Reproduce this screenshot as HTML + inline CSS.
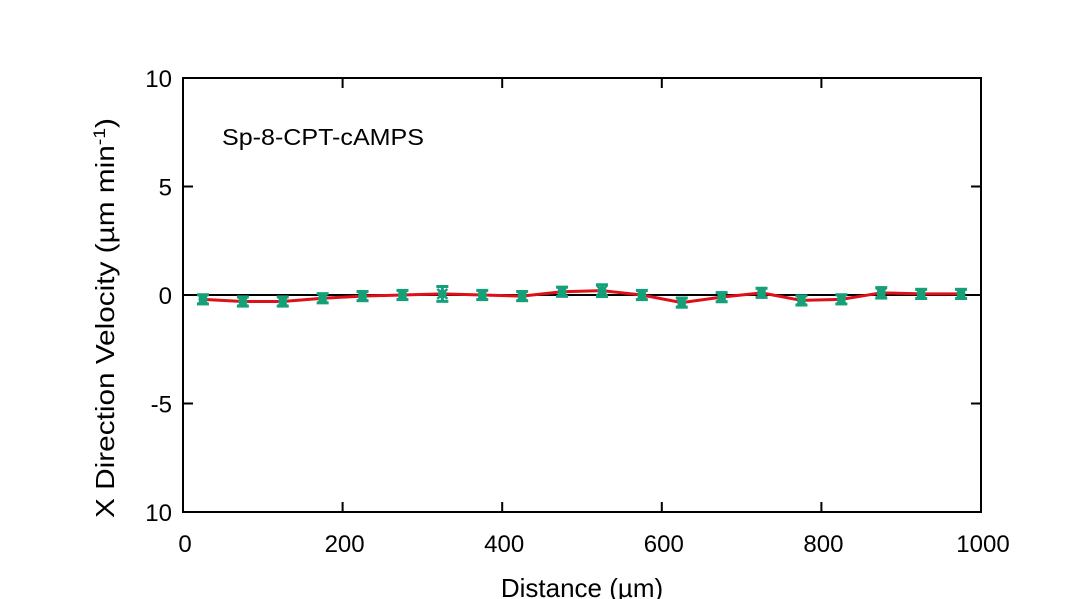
<!DOCTYPE html>
<html><head><meta charset="utf-8"><style>
body{margin:0;background:#fff;}
svg{display:block;font-family:"Liberation Sans",sans-serif;}
</style></head><body>
<svg id="c" width="1085" height="599">
<rect width="1085" height="599" fill="#fff"/>
<g id="axes"></g>
<g id="marks"></g>
<text x="222" y="145" font-size="23" textLength="202" lengthAdjust="spacingAndGlyphs">Sp-8-CPT-cAMPS</text>
<text x="582" y="597" font-size="26" text-anchor="middle">Distance (µm)</text>
<text transform="translate(114,318) rotate(-90)" font-size="26" text-anchor="middle" textLength="400" lengthAdjust="spacingAndGlyphs">X Direction Velocity (µm min<tspan baseline-shift="super" font-size="17">-1</tspan>)</text>
</svg>
<script>
const distances=[25,75,125,175,225,275,325,375,425,475,525,575,625,675,725,775,825,875,925,975];
const velocities=[-0.2,-0.3,-0.3,-0.15,-0.05,0,0.05,0,-0.05,0.15,0.2,0,-0.35,-0.1,0.1,-0.25,-0.2,0.1,0.05,0.05];
const errors=[0.12,0.12,0.12,0.12,0.12,0.12,0.25,0.12,0.12,0.12,0.18,0.12,0.12,0.12,0.12,0.12,0.12,0.15,0.12,0.12];
const xTicks=[0,200,400,600,800,1000];
const yTicks=[10,5,0,-5,-10];
const yTickLabels=["10","5","0","-5","10"];
const X0=183,X1=981,Y0=512,Y1=78;
const sx=v=>X0+(v-0)/(1000-0)*(X1-X0);
const sy=v=>Y0-(v+10)/20*(Y0-Y1);
const NS="http://www.w3.org/2000/svg";
function mk(t,a,p){const e=document.createElementNS(NS,t);for(const k in a)e.setAttribute(k,a[k]);p.appendChild(e);return e;}
const ax=document.getElementById('axes'),mg=document.getElementById('marks');
const frame=mk('rect',{x:X0,y:Y1,width:X1-X0,height:Y0-Y1,fill:'none',stroke:'#000','stroke-width':2},ax);


const zl=mk('line',{x1:X0,x2:X1,y1:sy(0),y2:sy(0),stroke:'#000','stroke-width':2},ax);


xTicks.forEach(t=>{
 const x=sx(t);
 mk('line',{x1:x,x2:x,y1:Y0,y2:Y0-10,stroke:'#000','stroke-width':2},ax);
 mk('line',{x1:x,x2:x,y1:Y1,y2:Y1+10,stroke:'#000','stroke-width':2},ax);
 const tx=mk('text',{x:x+2,y:Y0+40,'font-size':24,'text-anchor':'middle'},ax);
 tx.textContent=t;
 
 
});
yTicks.forEach((t,i)=>{
 const y=sy(t);
 mk('line',{x1:X0,x2:X0+10,y1:y,y2:y,stroke:'#000','stroke-width':2},ax);
 mk('line',{x1:X1,x2:X1-10,y1:y,y2:y,stroke:'#000','stroke-width':2},ax);
 const tx=mk('text',{x:X0-11,y:y+9,'font-size':24,'text-anchor':'end'},ax);
 tx.textContent=yTickLabels[i];
 
 
});
const pts=distances.map((d,i)=>sx(d)+','+sy(velocities[i])).join(' ');
const ln=mk('polyline',{points:pts,fill:'none',stroke:'#e0101a','stroke-width':3},mg);


distances.forEach((d,i)=>{
 const x=sx(d),y=sy(velocities[i]),e=errors[i]*(Y0-Y1)/20;
 const g=mk('g',{stroke:'#16a07a','stroke-width':3},mg);
 
 
 mk('line',{x1:x,x2:x,y1:y-e-2,y2:y+e+2},g);
 mk('line',{x1:x-6,x2:x+6,y1:y-e-2,y2:y-e-2},g);
 mk('line',{x1:x-6,x2:x+6,y1:y+e+2,y2:y+e+2},g);
 mk('line',{x1:x-5,x2:x+5,y1:y-5,y2:y+5,'stroke-width':2.5},g);
 mk('line',{x1:x-5,x2:x+5,y1:y+5,y2:y-5,'stroke-width':2.5},g);
 mk('circle',{cx:x,cy:y,r:4.5,fill:'#16a07a','stroke-width':0},g);
});
</script>
</body></html>
